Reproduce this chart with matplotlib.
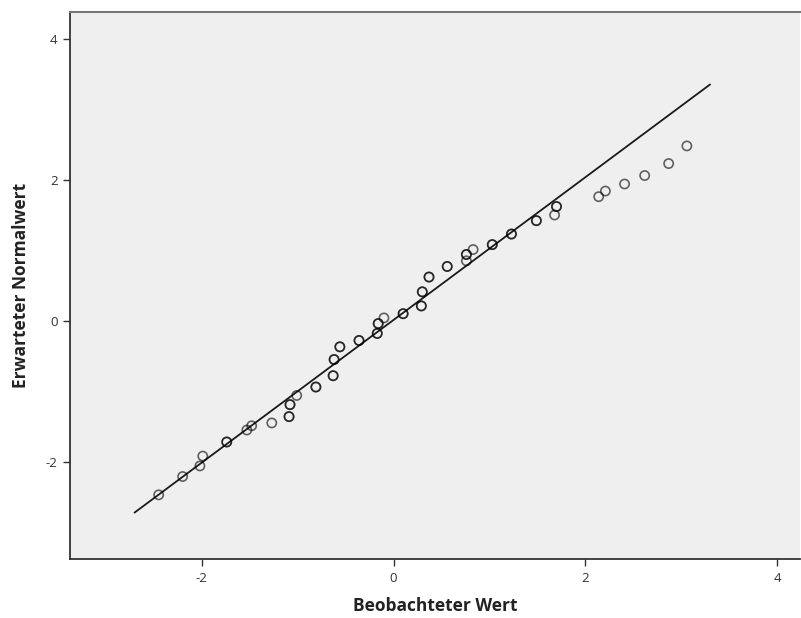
import numpy as np
import matplotlib.pyplot as plt

# Q-Q-Diagramm: beobachtete Werte vs. erwartete Normalwerte
# (doppelte Einträge = übereinanderliegende Fälle, erscheinen dunkler)
beobachtet = [-2.45, -2.20, -1.99, -2.02, -1.74, -1.74, -1.53, -1.48, -1.27,
              -1.09, -1.09, -1.08, -1.08, -1.01, -0.81, -0.81, -0.63, -0.63,
              -0.62, -0.62, -0.56, -0.56, -0.36, -0.36, -0.17, -0.17, -0.16,
              -0.16, -0.10, 0.10, 0.10, 0.29, 0.29, 0.30, 0.30, 0.37, 0.37,
              0.56, 0.56, 0.76, 0.76, 0.76, 0.83, 1.03, 1.03, 1.23, 1.23,
              1.49, 1.49, 1.70, 1.70, 1.68, 2.14, 2.21, 2.41, 2.62, 2.87, 3.06]
erwartet = [-2.47, -2.21, -1.92, -2.06, -1.72, -1.72, -1.55, -1.49, -1.45,
            -1.36, -1.36, -1.19, -1.19, -1.06, -0.94, -0.94, -0.78, -0.78,
            -0.55, -0.55, -0.37, -0.37, -0.28, -0.28, -0.18, -0.18, -0.04,
            -0.04, 0.04, 0.10, 0.10, 0.21, 0.21, 0.41, 0.41, 0.62, 0.62,
            0.77, 0.77, 0.94, 0.94, 0.85, 1.01, 1.08, 1.08, 1.23, 1.23,
            1.42, 1.42, 1.62, 1.62, 1.50, 1.76, 1.84, 1.94, 2.06, 2.23, 2.48]

# Referenzlinie
linie_x = [-2.70, 3.30]
linie_y = [-2.72, 3.35]

xticks = [-2, 0, 2, 4]
yticks = [-2, 0, 2, 4]

plt.rcParams['font.family'] = ['Open Sans', 'DejaVu Sans']
plt.rcParams['axes.unicode_minus'] = False

fig = plt.figure(figsize=(8.01, 6.18), dpi=100)
ax = fig.add_axes([70 / 801, 1 - 559 / 618, 730 / 801, 547 / 618])
ax.set_facecolor('#efefef')

ax.plot(linie_x, linie_y, color='#1a1a1a', lw=1.3, zorder=2)
ax.scatter(beobachtet, erwartet, s=44, facecolors='none', edgecolors='black',
           linewidths=1.2, alpha=0.6, zorder=3)

ax.set_xlim(-3.375, 4.24)
ax.set_ylim(-3.38, 4.38)
ax.set_xticks(xticks)
ax.set_yticks(yticks)
ax.tick_params(direction='out', length=5, width=1, color='#333333',
               labelsize=9.5, labelcolor='#333333', pad=4)

for side in ['left', 'bottom']:
    ax.spines[side].set_color('#333333')
    ax.spines[side].set_linewidth(1.3)
ax.spines['top'].set_color('#777777')
ax.spines['top'].set_linewidth(1.5)
ax.spines['right'].set_visible(False)

ax.set_xlabel('Beobachteter Wert', fontsize=12.5, fontweight='bold',
              color='#222222', labelpad=9)
ax.set_ylabel('Erwarteter Normalwert', fontsize=12.5, fontweight='bold',
              color='#222222', labelpad=11)

fig.savefig('out.png', dpi=100)
